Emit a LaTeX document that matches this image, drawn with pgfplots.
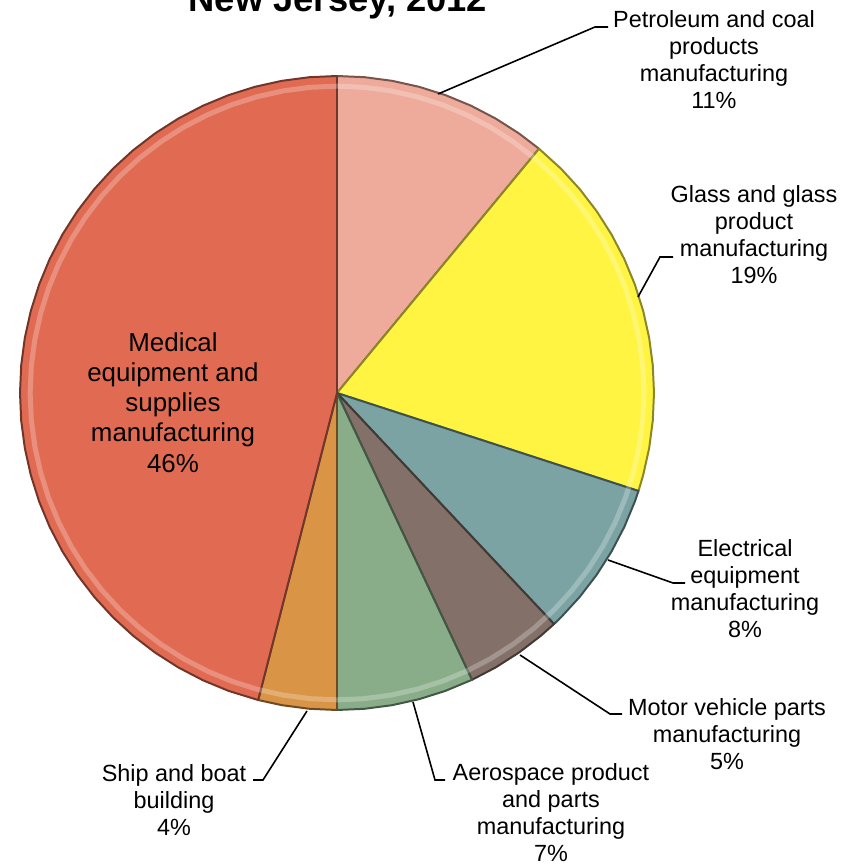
\documentclass[border=0pt]{standalone}
\usepackage{pgfplots}
\pgfplotsset{compat=1.18}
\usepgfplotslibrary{polar}
\usepackage{fontspec}
\setmainfont{Liberation Sans}
\definecolor{cMed}{RGB}{225,107,82}
\definecolor{cPet}{RGB}{238,170,154}
\definecolor{cGla}{RGB}{255,244,66}
\definecolor{cEle}{RGB}{124,163,163}
\definecolor{cMot}{RGB}{131,113,105}
\definecolor{cAer}{RGB}{137,173,137}
\definecolor{cShi}{RGB}{217,148,70}
\begin{document}
\begin{tikzpicture}
\useasboundingbox (0,0) rectangle (854bp,866bp);
% shares (percent): Petroleum 11, Glass 19, Electrical 8, Motor vehicle 5,
% Aerospace 7, Ship 4, Medical 46 -- clockwise from 12 o'clock (3.6 deg per percent)
\begin{polaraxis}[hide axis, scale only axis, width=634bp, height=634bp,
  ymin=0, ymax=1, xmin=0, xmax=360, clip=false, xtick=\empty, ytick=\empty,
  at={(337bp,473bp)}, anchor=center,
  every axis plot/.append style={line width=2pt, line join=round}]
% Petroleum and coal 11%
\addplot[fill=cPet, draw=cPet!50!black] coordinates {
 (0,0) (90,1) (85,1) (80,1) (75,1) (70,1) (65,1) (60,1) (55,1) (50.4,1) (0,0)};
% Glass 19%
\addplot[fill=cGla, draw=cGla!55!black] coordinates {
 (0,0) (50.4,1) (45,1) (40,1) (35,1) (30,1) (25,1) (20,1) (15,1) (10,1) (5,1) (0,1)
 (355,1) (350,1) (345,1) (342,1) (0,0)};
% Electrical 8%
\addplot[fill=cEle, draw=cEle!50!black] coordinates {
 (0,0) (342,1) (340,1) (335,1) (330,1) (325,1) (320,1) (315,1) (313.2,1) (0,0)};
% Motor vehicle 5%
\addplot[fill=cMot, draw=cMot!50!black] coordinates {
 (0,0) (313.2,1) (310,1) (305,1) (300,1) (295.2,1) (0,0)};
% Aerospace 7%
\addplot[fill=cAer, draw=cAer!50!black] coordinates {
 (0,0) (295.2,1) (290,1) (285,1) (280,1) (275,1) (270,1) (0,0)};
% Ship 4%
\addplot[fill=cShi, draw=cShi!50!black] coordinates {
 (0,0) (270,1) (265,1) (260,1) (255.6,1) (0,0)};
% Medical 46%
\addplot[fill=cMed, draw=cMed!50!black] coordinates {
 (0,0) (255.6,1) (250,1) (245,1) (240,1) (235,1) (230,1) (225,1) (220,1) (215,1)
 (210,1) (205,1) (200,1) (195,1) (190,1) (185,1) (180,1) (175,1) (170,1) (165,1)
 (160,1) (155,1) (150,1) (145,1) (140,1) (135,1) (130,1) (125,1) (120,1) (115,1)
 (110,1) (105,1) (100,1) (95,1) (90,1) (0,0)};
% bevel highlight along the rim
\addplot[draw=white, opacity=0.25, line width=5bp] coordinates {
 (0,0.968) (5,0.968) (10,0.968) (15,0.968) (20,0.968) (25,0.968) (30,0.968) (35,0.968)
 (40,0.968) (45,0.968) (50,0.968) (55,0.968) (60,0.968) (65,0.968) (70,0.968) (75,0.968)
 (80,0.968) (85,0.968) (90,0.968) (95,0.968) (100,0.968) (105,0.968) (110,0.968) (115,0.968)
 (120,0.968) (125,0.968) (130,0.968) (135,0.968) (140,0.968) (145,0.968) (150,0.968) (155,0.968)
 (160,0.968) (165,0.968) (170,0.968) (175,0.968) (180,0.968) (185,0.968) (190,0.968) (195,0.968)
 (200,0.968) (205,0.968) (210,0.968) (215,0.968) (220,0.968) (225,0.968) (230,0.968) (235,0.968)
 (240,0.968) (245,0.968) (250,0.968) (255,0.968) (260,0.968) (265,0.968) (270,0.968) (275,0.968)
 (280,0.968) (285,0.968) (290,0.968) (295,0.968) (300,0.968) (305,0.968) (310,0.968) (315,0.968)
 (320,0.968) (325,0.968) (330,0.968) (335,0.968) (340,0.968) (345,0.968) (350,0.968) (355,0.968)
 (360,0.968)};
\end{polaraxis}
\begin{scope}[x=1bp, y=-1bp, yshift=866bp]
\node[anchor=base, inner sep=0, font=\bfseries\fontsize{36.5}{40}\selectfont] at (338,12) {New Jersey, 2012};
\tikzset{lab/.style={anchor=north, inner sep=0, align=center, font=\fontsize{23.5}{27.3}\selectfont}}
\node[lab] at (714,7.9) {\strut Petroleum and coal\\products\\manufacturing\\11\%};
\node[lab] at (754,183) {\strut Glass and glass\\product\\manufacturing\\19\%};
\node[lab] at (745,537) {\strut Electrical\\equipment\\manufacturing\\8\%};
\node[lab] at (727,696) {\strut Motor vehicle parts\\manufacturing\\5\%};
\node[lab] at (551,761) {\strut Aerospace product\\and parts\\manufacturing\\7\%};
\node[lab] at (174,762) {\strut Ship and boat\\building\\4\%};
\node[anchor=north, inner sep=0, align=center, font=\fontsize{26}{30.3}\selectfont] at (173,330)
  {\strut Medical\\equipment and\\supplies\\manufacturing\\46\%};
\begin{scope}[line width=1.6pt, line join=miter]
\draw (438,94) -- (595,27) -- (608,27);
\draw (638,297) -- (660,257) -- (673,257);
\draw (608,560) -- (673,583) -- (685,583);
\draw (520,655) -- (610,714) -- (622,714);
\draw (413,702) -- (435,780) -- (445,780);
\draw (307,711) -- (263,780) -- (253,780);
\end{scope}
\end{scope}
\end{tikzpicture}
\end{document}
